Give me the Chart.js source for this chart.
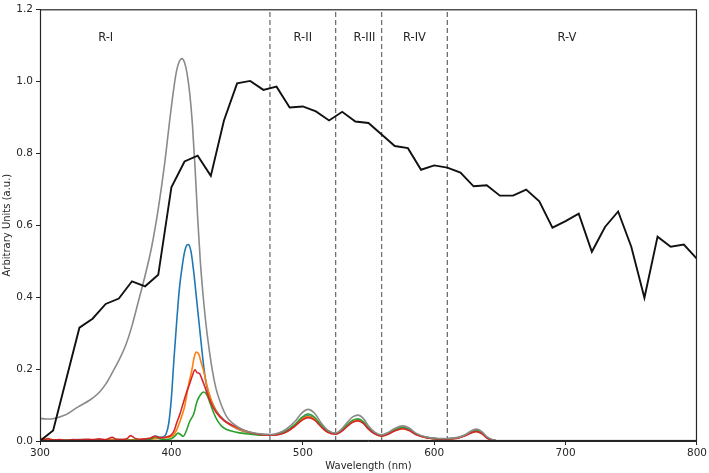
<!DOCTYPE html>
<html>
<head>
<meta charset="utf-8">
<script src="https://cdn.jsdelivr.net/npm/chart.js@4/dist/chart.umd.min.js"></script>
<style>
  html, body { margin: 0; padding: 0; background: #fff; }
  #wrap { width: 709px; height: 473px; }
</style>
</head>
<body>
<div id="wrap"><canvas id="myChart" width="709" height="473"></canvas></div>
<script>
// black: lamp spectrum, sampled every 10 nm
const blackWl = [300,310,330,340,350,360,370,380,390,400,410,420,430,440,450,460,470,480,490,500,510,520,530,540,550,560,570,580,590,600,610,620,630,640,650,660,670,680,690,700,710,720,730,740,750,760,770,780,790,800]
const blackVal = [0,0.029,0.315,0.34,0.381,0.396,0.444,0.43,0.462,0.705,0.777,0.793,0.737,0.891,0.994,1.001,0.976,0.985,0.927,0.93,0.916,0.891,0.915,0.888,0.884,0.852,0.82,0.814,0.754,0.766,0.76,0.746,0.708,0.711,0.682,0.682,0.699,0.666,0.593,0.611,0.632,0.526,0.595,0.638,0.54,0.398,0.568,0.54,0.546,0.506]

// gray curve
const grayWl = [300,305,310,319,329,338,345,350,355,360,365,370,375,380,385,390,395,399,402,404,406,408,410,412,414,416,418,420,422,424,426,428,431,434,437,442,447,455,462,470,476,482,487,494,499,504,509,514,519,525,530,534,538,542,546,550,555,560,565,570,576,581,586,594,603,610,618,624,628,632,636,640,645,650,800]
const grayVal = [0.063,0.061,0.062,0.072,0.095,0.114,0.135,0.158,0.19,0.224,0.264,0.32,0.39,0.46,0.54,0.645,0.775,0.9,0.985,1.03,1.055,1.063,1.052,1.02,0.965,0.88,0.76,0.62,0.5,0.41,0.335,0.275,0.2,0.145,0.11,0.068,0.048,0.03,0.023,0.019,0.018,0.023,0.032,0.054,0.077,0.088,0.077,0.05,0.03,0.022,0.035,0.052,0.067,0.072,0.063,0.042,0.024,0.017,0.024,0.035,0.042,0.036,0.022,0.011,0.007,0.007,0.01,0.018,0.028,0.033,0.027,0.012,0.003,0,0]

// shared wavelengths for the small bands after 480 nm
const tailWl = [482,487,494,499,504,509,514,519,525,530,534,538,542,546,550,555,560,565,570,576,581,586,594,603,610,618,624,628,632,636,640,645,650,800]

const blueHeadWl = [300,310,320,330,340,350,360,370,380,385,388,391,394,396,398,400,402,404,406,408,410,412,413,415,417,419,421,423,425,427,430,434,440,450,460,470,476]
const blueHeadVal = [0.002,0.003,0.002,0.004,0.003,0.003,0.004,0.003,0.004,0.008,0.014,0.01,0.012,0.02,0.05,0.12,0.23,0.33,0.42,0.48,0.525,0.545,0.546,0.525,0.47,0.4,0.33,0.26,0.195,0.15,0.115,0.085,0.058,0.034,0.022,0.017,0.016]
const blueTailVal = [0.019,0.026,0.044,0.062,0.07,0.062,0.042,0.026,0.02,0.03,0.044,0.055,0.059,0.052,0.035,0.02,0.015,0.02,0.03,0.036,0.031,0.019,0.01,0.006,0.006,0.009,0.016,0.024,0.028,0.023,0.009,0.002,0,0]

const orangeHeadWl = [300,305,310,320,330,340,350,360,370,380,390,395,400,402,404,407,410,413,415.5,417.5,419,421,422.5,424.5,427,429.5,433,437,442,447,455,465,476]
const orangeHeadVal = [0.008,0.004,0.003,0.002,0.003,0.002,0.003,0.004,0.003,0.004,0.007,0.01,0.012,0.018,0.031,0.06,0.095,0.155,0.196,0.235,0.247,0.24,0.22,0.195,0.155,0.123,0.09,0.068,0.052,0.04,0.027,0.019,0.016]
const orangeTailVal = [0.019,0.025,0.043,0.06,0.068,0.061,0.041,0.025,0.02,0.029,0.043,0.054,0.058,0.051,0.034,0.02,0.014,0.02,0.029,0.035,0.03,0.019,0.009,0.006,0.006,0.008,0.016,0.023,0.027,0.022,0.009,0.002,0,0]

const greenHeadWl = [300,310,320,330,340,350,360,370,380,385,388,391,395,400,403,405,407,409,411,414,417,419.5,422,424.5,427,429.5,432,434.5,438,442,450,460,470,476]
const greenHeadVal = [0.001,0.001,0.002,0.001,0.002,0.001,0.002,0.002,0.003,0.006,0.012,0.006,0.004,0.006,0.015,0.022,0.018,0.013,0.025,0.055,0.075,0.11,0.128,0.136,0.128,0.105,0.08,0.06,0.042,0.032,0.024,0.019,0.016,0.016]
const greenTailVal = [0.02,0.027,0.046,0.065,0.075,0.066,0.044,0.027,0.021,0.031,0.046,0.058,0.062,0.054,0.036,0.021,0.015,0.021,0.031,0.038,0.032,0.02,0.01,0.006,0.006,0.009,0.017,0.025,0.03,0.024,0.01,0.002,0,0]

const redHeadWl = [300,303,306,310,315,320,325,330,335,340,345,350,355,358,362,366,369,372,376,380,384,387,390,394,397,400,402,404,406.5,409,411.5,414,416,418,419.5,421.5,423.5,425.5,429,434,440,452,460,470,476]
const redHeadVal = [0.005,0.003,0.007,0.003,0.004,0.002,0.004,0.003,0.005,0.004,0.006,0.004,0.01,0.005,0.004,0.006,0.015,0.008,0.005,0.006,0.008,0.013,0.01,0.009,0.012,0.017,0.028,0.05,0.075,0.105,0.135,0.16,0.182,0.198,0.19,0.187,0.17,0.15,0.115,0.08,0.057,0.035,0.024,0.017,0.016]
const redTailVal = [0.018,0.024,0.041,0.057,0.065,0.058,0.039,0.024,0.019,0.028,0.041,0.052,0.056,0.049,0.033,0.019,0.014,0.019,0.028,0.034,0.029,0.018,0.009,0.006,0.006,0.008,0.015,0.022,0.026,0.021,0.009,0.002,0,0]

// region borders and labels
const borderWl = [475, 525, 560, 610]
const regionNames = ['R-I', 'R-II', 'R-III', 'R-IV', 'R-V']
const regionLabelWl = [350, 500, 547, 585, 701]
const regionLabelY = 1.12

const xTicks = [300, 400, 500, 600, 700, 800]
const yTicks = [0, 0.2, 0.4, 0.6, 0.8, 1.0, 1.2]

function pts(wl, val) {
    return wl.map((w, i) => ({ x: w, y: val[i] }))
}

const FONT = 'DejaVu Sans'
const INK = '#262626'

function curve(label, data, color, width, smooth) {
    return {
        label: label,
        data: data,
        borderColor: color,
        borderWidth: width,
        pointRadius: 0,
        fill: false,
        tension: smooth ? 0.4 : 0,
        cubicInterpolationMode: smooth ? 'monotone' : 'default',
    }
}

const datasets = [
    curve('black', pts(blackWl, blackVal), '#111111', 1.9, false),
    curve('gray', pts(grayWl, grayVal), '#8a8a8a', 1.6, true),
    curve('red', pts(redHeadWl.concat(tailWl), redHeadVal.concat(redTailVal)), '#d62728', 1.6, true),
    curve('green', pts(greenHeadWl.concat(tailWl), greenHeadVal.concat(greenTailVal)), '#2ca02c', 1.6, true),
    curve('orange', pts(orangeHeadWl.concat(tailWl), orangeHeadVal.concat(orangeTailVal)), '#ff7f0e', 1.6, true),
    curve('blue', pts(blueHeadWl.concat(tailWl), blueHeadVal.concat(blueTailVal)), '#1f77b4', 1.6, true),
]
borderWl.forEach(w => {
    datasets.push({
        label: 'border ' + w,
        data: [{ x: w, y: 0 }, { x: w, y: 1.2 }],
        borderColor: '#707070',
        borderWidth: 1.3,
        borderDash: [5, 3],
        pointRadius: 0,
        fill: false,
    })
})

const frameAndLabels = {
    id: 'frameAndLabels',
    afterDatasetsDraw(chart) {
        const { ctx, chartArea, scales } = chart
        ctx.save()
        ctx.fillStyle = INK
        ctx.font = '11.5px "' + FONT + '"'
        ctx.textAlign = 'center'
        ctx.textBaseline = 'middle'
        regionNames.forEach((name, i) => {
            ctx.fillText(name, scales.x.getPixelForValue(regionLabelWl[i]), scales.y.getPixelForValue(regionLabelY))
        })
        ctx.strokeStyle = INK
        ctx.lineWidth = 1.2
        ctx.strokeRect(chartArea.left + 0.5, chartArea.top + 0.5, chartArea.right - chartArea.left - 1, chartArea.bottom - chartArea.top - 1)
        ctx.restore()
    }
}

const ctx1 = document.getElementById('myChart')
const myChart = new Chart(ctx1, {
    type: 'line',
    data: { datasets: datasets },
    options: {
        responsive: false,
        animation: false,
        layout: { padding: { top: 5, right: 12, left: 0, bottom: 0 } },
        plugins: {
            legend: { display: false },
            tooltip: { enabled: false },
        },
        scales: {
            x: {
                type: 'linear',
                min: 300,
                max: 800,
                afterFit: s => { s.height = 32 },
                afterBuildTicks: s => { s.ticks = xTicks.map(v => ({ value: v })) },
                ticks: { color: INK, font: { family: FONT, size: 10.5 }, padding: 2, maxRotation: 0 },
                grid: { drawOnChartArea: false, tickLength: 4, color: INK },
                border: { color: INK },
                title: { display: true, text: 'Wavelength (nm)', color: INK, font: { family: FONT, size: 10 }, padding: { top: 0, bottom: 1 } },
            },
            y: {
                min: 0,
                max: 1.2,
                afterFit: s => { s.width = 40 },
                afterBuildTicks: s => { s.ticks = yTicks.map(v => ({ value: v })) },
                ticks: { color: INK, font: { family: FONT, size: 10.5 }, padding: 3, callback: v => v.toFixed(1) },
                grid: { drawOnChartArea: false, tickLength: 4, color: INK },
                border: { color: INK },
                title: { display: true, text: 'Arbitrary Units (a.u.)', color: INK, font: { family: FONT, size: 10 }, padding: { top: 1, bottom: 0 } },
            },
        },
    },
    plugins: [frameAndLabels],
})
</script>
</body>
</html>
